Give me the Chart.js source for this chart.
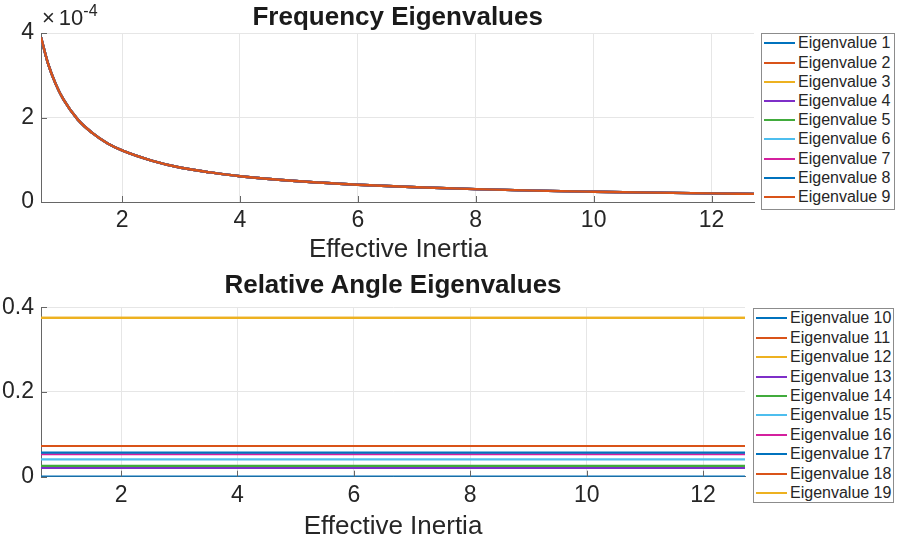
<!DOCTYPE html>
<html>
<head>
<meta charset="utf-8">
<script src="https://cdn.jsdelivr.net/npm/chart.js@4/dist/chart.umd.min.js"></script>
<style>
  html, body { margin: 0; padding: 0; background: #fff; }
  #wrap { position: relative; width: 897px; height: 536px; overflow: hidden; font-family: "Liberation Sans", Arial, Helvetica, sans-serif; color: #262626; }
  canvas { position: absolute; left: 0; }
  .lbl { position: absolute; white-space: nowrap; transform: translate(-50%, -50%); line-height: 1; }
  .title { font-weight: bold; font-size: 26px; color: #1a1a1a; }
  .axtitle { font-size: 26px; color: #262626; }
  .legend { position: absolute; background: #fff; border: 1px solid #8c8c8c; box-sizing: border-box; font-size: 16px; color: #262626; }
  .legend .row { position: absolute; left: 0; right: 0; white-space: nowrap; }
  .legend .sw { position: absolute; height: 2px; }
  .legend .tx { position: absolute; line-height: 1; transform: translateY(-50%); white-space: nowrap; }
</style>
</head>
<body>
<div id="wrap">
  <canvas id="c1" width="897" height="268" style="top:0"></canvas>
  <canvas id="c2" width="897" height="268" style="top:268px"></canvas>
</div>
<script>
// ---------------- data ----------------
const inertia = [0.625, 0.75, 0.875, 1, 1.25, 1.5, 1.75, 2, 2.5, 3, 3.5, 4, 5, 6, 7, 8, 9, 10, 11, 12, 12.72];
const freqEig = [3.90e-4, 3.25e-4, 2.79e-4, 2.44e-4, 1.95e-4, 1.63e-4, 1.39e-4, 1.22e-4, 0.98e-4, 0.81e-4, 0.70e-4,
                 0.61e-4, 0.49e-4, 0.41e-4, 0.35e-4, 0.305e-4, 0.27e-4, 0.244e-4, 0.222e-4, 0.203e-4, 0.192e-4];
const freqLabels = ["Eigenvalue 1","Eigenvalue 2","Eigenvalue 3","Eigenvalue 4","Eigenvalue 5","Eigenvalue 6","Eigenvalue 7","Eigenvalue 8","Eigenvalue 9"];
const freqSeries = [freqEig, freqEig, freqEig, freqEig, freqEig, freqEig, freqEig, freqEig, freqEig];

const angleLabels = ["Eigenvalue 10","Eigenvalue 11","Eigenvalue 12","Eigenvalue 13","Eigenvalue 14","Eigenvalue 15","Eigenvalue 16","Eigenvalue 17","Eigenvalue 18","Eigenvalue 19"];
const angleEig = [0, 0.0725, 0.375, 0.021, 0.0257, 0.041, 0.053, 0.057, 0.0725, 0.375];

const xTicks = [2, 4, 6, 8, 10, 12];
const freqYTicks = [0, 2e-4, 4e-4];
const angleYTicks = [0, 0.2, 0.4];
const xMin = 0.625, xMax = 12.72;

const palette = ["#0072BD", "#D95319", "#EDB120", "#7E2FC8", "#41AB3C", "#4DBEEE", "#D4209E"];

// ---------------- helpers ----------------
const FONT = '"Liberation Sans", Arial, Helvetica, sans-serif';
const inwardTicks = {
  id: 'inwardTicks',
  afterDraw(chart) {
    const ctx = chart.ctx, a = chart.chartArea;
    const xs = chart.scales.x, ys = chart.scales.y;
    ctx.save();
    ctx.strokeStyle = '#666';
    ctx.lineWidth = 1;
    ctx.beginPath();
    xs.ticks.forEach(t => { const p = Math.round(xs.getPixelForValue(t.value)) + 0.5; ctx.moveTo(p, a.bottom); ctx.lineTo(p, a.bottom - 6); });
    ys.ticks.forEach(t => { const p = Math.round(ys.getPixelForValue(t.value)) + 0.5; ctx.moveTo(a.left, p); ctx.lineTo(a.left + 6, p); });
    ctx.stroke();
    ctx.restore();
  }
};

function makeChart(id, datasets, yMax, yTicks, yFmt, padRight, padTop, xAxisH) {
  return new Chart(document.getElementById(id), {
    type: 'line',
    data: { datasets },
    options: {
      responsive: false, animation: false, devicePixelRatio: 1,
      layout: { padding: { left: 0, top: padTop, right: padRight, bottom: 0 } },
      plugins: { legend: { display: false }, tooltip: { enabled: false }, title: { display: false } },
      elements: { point: { radius: 0 } },
      scales: {
        x: {
          type: 'linear', min: xMin, max: xMax,
          afterBuildTicks: s => { s.ticks = xTicks.map(v => ({ value: v })); },
          afterFit: s => { s.height = xAxisH; },
          ticks: { font: { family: FONT, size: 23 }, color: '#262626', padding: 5, maxRotation: 0, autoSkip: false },
          grid: { color: '#e6e6e6', drawTicks: false, lineWidth: 1 },
          border: { display: true, color: '#666', width: 1 }
        },
        y: {
          type: 'linear', min: 0, max: yMax,
          afterBuildTicks: s => { s.ticks = yTicks.map(v => ({ value: v })); },
          afterFit: s => { s.width = 41; },
          ticks: { font: { family: FONT, size: 23 }, color: '#262626', padding: 7, callback: yFmt },
          grid: { color: '#e6e6e6', drawTicks: false, lineWidth: 1 },
          border: { display: true, color: '#666', width: 1 }
        }
      }
    },
    plugins: [inwardTicks]
  });
}

// ---------------- top chart ----------------
const topSets = freqSeries.map((vals, i) => ({
  label: freqLabels[i],
  data: inertia.map((x, k) => ({ x, y: vals[k] })),
  borderColor: palette[i % palette.length],
  borderWidth: 2.4,
  cubicInterpolationMode: 'monotone',
  fill: false,
  order: -i
}));
makeChart('c1', topSets, 4e-4, freqYTicks, v => String(Math.round(v * 1e4)), 143, 33, 66);

// ---------------- bottom chart ----------------
const botSets = angleEig.map((val, i) => ({
  label: angleLabels[i],
  data: [xMin, xMax].map(x => ({ x, y: val })),
  borderColor: palette[i % palette.length],
  borderWidth: 2.2,
  fill: false,
  order: -i
}));
makeChart('c2', botSets, 0.4, angleYTicks, v => (v === 0 ? '0' : String(Math.round(v * 10) / 10)), 152, 39.3, 59.3);

// ---------------- text and legends ----------------
const wrap = document.getElementById('wrap');
function addLabel(text, cls, x, y) {
  const d = document.createElement('div');
  d.className = 'lbl ' + cls;
  d.textContent = text;
  d.style.left = x + 'px'; d.style.top = y + 'px';
  wrap.appendChild(d);
}
addLabel('Frequency Eigenvalues', 'title', 397.7, 15.5);
addLabel('Effective Inertia', 'axtitle', 398.3, 248);
addLabel('Relative Angle Eigenvalues', 'title', 393, 283.5);
addLabel('Effective Inertia', 'axtitle', 393, 524.5);

const expo = document.createElement('div');
expo.style.cssText = 'position:absolute;left:42px;top:7.4px;font-size:22px;line-height:1;white-space:nowrap;color:#262626;';
expo.innerHTML = '\u00d7<span style="margin-left:4px;">10</span><span style="position:relative;top:-9.5px;font-size:16px;">-4</span>';
wrap.appendChild(expo);

function addLegend(labels, colors, box, firstY, step, swL, swW, txL) {
  const lg = document.createElement('div');
  lg.className = 'legend';
  lg.style.left = box.l + 'px'; lg.style.top = box.t + 'px';
  lg.style.width = (box.r - box.l) + 'px'; lg.style.height = (box.b - box.t) + 'px';
  labels.forEach((lab, i) => {
    const cy = firstY + i * step - box.t - 1;
    const sw = document.createElement('div');
    sw.className = 'sw';
    sw.style.left = (swL - box.l - 1) + 'px'; sw.style.width = swW + 'px';
    sw.style.top = (cy - 1) + 'px'; sw.style.background = colors[i];
    const tx = document.createElement('div');
    tx.className = 'tx';
    tx.style.left = (txL - box.l - 1) + 'px'; tx.style.top = cy + 'px';
    tx.textContent = lab;
    lg.appendChild(sw); lg.appendChild(tx);
  });
  wrap.appendChild(lg);
}
addLegend(freqLabels, topSets.map(d => d.borderColor), { l: 761, t: 33, r: 895, b: 209.5 }, 43.3, 19.2, 764, 31, 798);
addLegend(angleLabels, botSets.map(d => d.borderColor), { l: 753, t: 307.7, r: 894, b: 503 }, 318.3, 19.44, 756, 31, 790);
</script>
</body>
</html>
